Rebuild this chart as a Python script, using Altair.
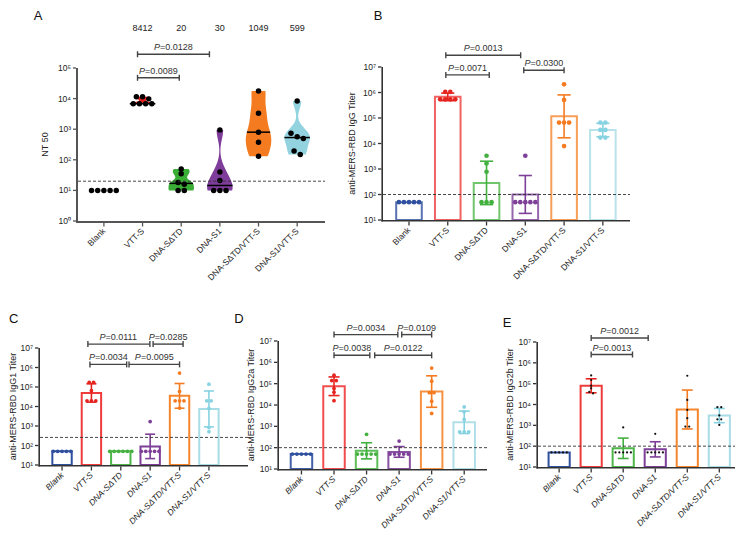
import altair as alt
import numpy as np
import pandas as pd

# ---------------- data ----------------
CATS = ["Blank", "VTT-S", "DNA-S\u0394TD", "DNA-S1", "DNA-S\u0394TD/VTT-S", "DNA-S1/VTT-S"]
SUPERSCRIPTS = ["\u2070", "\u00b9", "\u00b2", "\u00b3", "\u2074", "\u2075", "\u2076", "\u2077"]

# Panel A: NT50 per group
A_BLANK = [10, 10, 10, 10, 10]
A_VTT = [11500, 9800, 11500, 6800, 6800, 6800, 6800]
A_DSDTD = [50, 35, 18, 16, 10, 10]
A_DS1 = [950, 40, 21, 10, 10, 10]
A_DSDTD_VTT = [17800, 3300, 800, 372, 130]
A_DS1_VTT = [8300, 740, 570, 500, 195, 150]
A_GMT_TEXT = ["8412", "20", "30", "1049", "599"]

# Panel B: IgG titers
B_BLANK = [50, 50, 50, 50, 50]
B_VTT = [1050000, 1050000, 540000, 540000, 540000, 540000]
B_DSDTD = [3300, 1650, 780, 50, 50, 50]
B_DS1 = [3300, 50, 50, 50, 50, 50]
B_DSDTD_VTT = [2100000, 510000, 66000, 66000, 66000, 7900]
B_DS1_VTT = [66000, 66000, 34000, 34000, 17000, 17000]

# Panel C: IgG1 titers
C_BLANK = [50, 50, 50, 50, 50]
C_VTT = [174000, 174000, 65000, 19500, 19500, 19500]
C_DSDTD = [50, 50, 50, 50, 50, 50]
C_DS1 = [1700, 50, 50, 50, 50, 50]
C_DSDTD_VTT = [520000, 59000, 19500, 19500, 19500, 8300]
C_DS1_VTT = [140000, 19500, 19500, 8000, 830, 510]

# Panel D: IgG2a titers
D_BLANK = [50, 50, 50, 50, 50]
D_VTT = [250000, 140000, 140000, 60000, 40000, 16000]
D_DSDTD = [420, 50, 50, 50, 50, 50]
D_DS1 = [205, 50, 50, 50, 50, 50]
D_DSDTD_VTT = [540000, 130000, 38000, 38000, 15000, 4000]
D_DS1_VTT = [8100, 4800, 2100, 550, 550, 550]

# Panel E: IgG2b titers
E_BLANK = [50, 50, 50, 50, 50]
E_VTT = [250000, 150000, 80000, 60000, 40000, 34000]
E_DSDTD = [790, 50, 50, 50, 50, 50]
E_DS1 = [390, 50, 50, 50, 50, 50]
E_DSDTD_VTT = [240000, 16500, 5500, 2200, 870, 870]
E_DS1_VTT = [7400, 7400, 3000, 1950, 1950, 1050]

# comparison brackets: (from, to, log10 height, p text)
A_P = [(0.87, 1.95, 4.68, "=0.0089"), (0.87, 2.73, 5.45, "=0.0128")]
B_P = [(0.95, 2.07, 6.69, "=0.0071"), (0.95, 2.88, 7.46, "=0.0013"), (2.96, 4.0, 6.87, "=0.0300")]
C_P = [(0.88, 2.99, 7.2, "=0.0111"), (3.1, 4.12, 7.2, "=0.0285"),
       (0.95, 2.2, 6.16, "=0.0034"), (2.28, 4.0, 6.16, "=0.0095")]
D_P = [(1.0, 2.96, 7.3, "=0.0034"), (3.08, 4.0, 7.3, "=0.0109"),
       (1.0, 2.1, 6.33, "=0.0038"), (2.25, 4.0, 6.33, "=0.0122")]
E_P = [(1.0, 2.78, 7.19, "=0.0012"), (1.0, 2.29, 6.4, "=0.0013")]

# detection-limit lines
A_LIMIT = 20
B_LIMIT = 100
C_LIMIT = 260
D_LIMIT = 100
E_LIMIT = 100

VIOLIN_COLORS = ["#000000", "#e8231f", "#3aad36", "#7e3d9a", "#f47b20", "#93d3e0"]
BAR_COLORS = ["#2f4f9f", "#ee3b3b", "#4cb748", "#7d3f98", "#f5862d", "#a8dce6"]
DOT_COLORS = ["#2f4f9f", "#e52420", "#43b03f", "#7d3f98", "#f47b20", "#86d2e2"]

# ---------------- helpers ----------------
W, H = 727, 521
FONT = "Liberation Sans"


def gstats(vals):
    lg = np.log10(np.asarray(vals, float))
    s = lg.std(ddof=1) if len(lg) > 1 else 0.0
    return lg.mean(), s


def swarm(vals, center, spacing, thresh):
    lg = np.log10(np.asarray(vals, float))
    order = np.argsort(-lg, kind="stable")
    xs = np.zeros(len(lg))
    groups = [[order[0]]]
    for j in order[1:]:
        if abs(lg[j] - lg[groups[-1][-1]]) < thresh:
            groups[-1].append(j)
        else:
            groups.append([j])
    for g in groups:
        n = len(g)
        for k, j in enumerate(g):
            xs[j] = center + (k - (n - 1) / 2) * spacing
    return xs


def make_enc(xr, xdom, yr, ydec):
    xs = alt.Scale(domain=list(xdom), range=list(xr), nice=False, zero=False)
    ys = alt.Scale(type="log", domain=[10.0 ** ydec[0], 10.0 ** ydec[1]], range=list(yr), nice=False)

    def X(f):
        return alt.X(f, type="quantitative", scale=xs, axis=None)

    def Y(f):
        return alt.Y(f, type="quantitative", scale=ys, axis=None)
    return X, Y


def axis_layers(X, Y, xr, xdom, yr, ydec, color, width, ytitle, italic, title_off):
    ppd = (yr[0] - yr[1]) / (ydec[1] - ydec[0])
    pps = (xr[1] - xr[0]) / (xdom[1] - xdom[0])
    lo, hi = ydec
    # frame lines as thin filled rectangles
    frame = pd.DataFrame({
        "xa": [xdom[0] - width / pps, xdom[0] - width / pps],
        "xb": [xdom[1], xdom[0]],
        "ya": [10.0 ** (lo - width / ppd), 10.0 ** (lo - width / ppd)],
        "yb": [10.0 ** lo, 10.0 ** hi]})
    lines = alt.Chart(frame).mark_rect(color=color, opacity=1).encode(
        x=X("xa"), x2="xb", y=Y("ya"), y2="yb")
    tw = 0.65
    xt = pd.DataFrame({"xa": [i - tw / pps for i in range(6)], "xb": [i + tw / pps for i in range(6)],
                       "x": list(range(6)),
                       "ya": [10.0 ** (lo - 5.5 / ppd)] * 6, "yb": [10.0 ** (lo - width / ppd)] * 6,
                       "yl": [10.0 ** (lo - 8.5 / ppd)] * 6, "t": CATS})
    xticks = alt.Chart(xt).mark_rect(color=color, opacity=1).encode(
        x=X("xa"), x2="xb", y=Y("ya"), y2="yb")
    xlabels = alt.Chart(xt).mark_text(
        angle=315, align="right", baseline="middle", fontSize=8.5, font=FONT,
        fontStyle="italic" if italic else "normal", color="#222").encode(
        x=X("x"), y=Y("yl"), text="t:N")
    ks = list(range(lo, hi + 1))
    yt = pd.DataFrame({"ya": [10.0 ** (k - tw / ppd) for k in ks], "yb": [10.0 ** (k + tw / ppd) for k in ks],
                       "y": [10.0 ** k for k in ks],
                       "xa": [xdom[0] - 5.0 / pps] * len(ks), "xb": [xdom[0] - width / pps] * len(ks),
                       "xl": [xdom[0] - 7.0 / pps] * len(ks),
                       "t": ["10" + SUPERSCRIPTS[k] for k in ks]})
    yticks = alt.Chart(yt).mark_rect(color=color, opacity=1).encode(
        x=X("xa"), x2="xb", y=Y("ya"), y2="yb")
    ylabels = alt.Chart(yt).mark_text(align="right", baseline="middle", fontSize=8.5, font=FONT,
                                      color="#222").encode(x=X("xl"), y=Y("y"), text="t:N")
    tdf = pd.DataFrame({"x": [xdom[0] - title_off / pps],
                        "y": [10 ** ((lo + hi) / 2)], "t": [ytitle]})
    title = alt.Chart(tdf).mark_text(angle=270, align="center", baseline="middle", fontSize=9,
                                     font=FONT, color="#222").encode(x=X("x"), y=Y("y"), text="t:N")
    return [lines, xticks, yticks, xlabels, ylabels, title]


def extra_layers(X, Y, xdom, ydec, yr, limit, brackets):
    ppd = (yr[0] - yr[1]) / (ydec[1] - ydec[0])
    cap = 3.0 / ppd
    dash = alt.Chart(pd.DataFrame({"x0": [xdom[0]], "x1": [xdom[1]], "y": [limit]})).mark_rule(
        strokeDash=[3, 2], strokeWidth=0.9, color="#333").encode(x=X("x0"), x2="x1", y=Y("y"))
    bdf = pd.DataFrame({
        "x0": [b[0] for b in brackets], "x1": [b[1] for b in brackets],
        "y": [10 ** b[2] for b in brackets],
        "ylo": [10 ** (b[2] - cap) for b in brackets], "yhi": [10 ** (b[2] + cap) for b in brackets],
        "xm": [(b[0] + b[1]) / 2 for b in brackets], "lab": [b[3] for b in brackets]})
    base = alt.Chart(bdf)
    rc = "#444"
    h = base.mark_rule(color=rc, strokeWidth=1.4).encode(x=X("x0"), x2="x1", y=Y("y"))
    c0 = base.mark_rule(color=rc, strokeWidth=1.4).encode(x=X("x0"), y=Y("ylo"), y2="yhi")
    c1 = base.mark_rule(color=rc, strokeWidth=1.4).encode(x=X("x1"), y=Y("ylo"), y2="yhi")
    tp = base.mark_text(text="P", fontStyle="italic", align="right", baseline="alphabetic",
                        dx=-13.4, dy=-4, fontSize=9, font=FONT, color="#333").encode(x=X("xm"), y=Y("y"))
    tr = base.mark_text(align="left", baseline="alphabetic", dx=-13.4, dy=-4, fontSize=9,
                        font=FONT, color="#333").encode(x=X("xm"), y=Y("y"), text="lab:N")
    return [dash, h, c0, c1, tp, tr]


def bar_panel(groups, xr, xdom, yr, ydec, ytitle, italic, limit, brackets,
              dot_colors, dot_size, spacing, bar_opacity, title_off):
    X, Y = make_enc(xr, xdom, yr, ydec)
    bars, errs, pts = [], [], []
    for i, vals in enumerate(groups):
        m, s = gstats(vals)
        bars.append(dict(b0=i - 0.33, b1=i + 0.33, base=10.0 ** ydec[0], top=10 ** m, c=BAR_COLORS[i]))
        if s > 0.01:
            errs.append(dict(i=i, lo=10 ** (m - s), hi=10 ** (m + s), c0=i - 0.17, c1=i + 0.17,
                             c=DOT_COLORS[i]))
        for x, v in zip(swarm(vals, i, spacing, 0.1), vals):
            pts.append(dict(x=x, v=v, c=dot_colors[i]))
    bdf, edf, pdf = pd.DataFrame(bars), pd.DataFrame(errs), pd.DataFrame(pts)
    col = alt.Color("c:N", scale=None)
    bar = alt.Chart(bdf).mark_rect(fillOpacity=0, strokeWidth=2, strokeOpacity=bar_opacity).encode(
        x=X("b0"), x2="b1", y=Y("base"), y2="top", stroke=alt.Stroke("c:N", scale=None))
    ev = alt.Chart(edf).mark_rule(strokeWidth=1.6).encode(x=X("i"), y=Y("lo"), y2="hi", color=col)
    et = alt.Chart(edf).mark_rule(strokeWidth=1.6).encode(x=X("c0"), x2="c1", y=Y("hi"), color=col)
    eb = alt.Chart(edf).mark_rule(strokeWidth=1.6).encode(x=X("c0"), x2="c1", y=Y("lo"), color=col)
    dots = alt.Chart(pdf).mark_circle(size=dot_size, opacity=1).encode(x=X("x"), y=Y("v"), color=col)
    return alt.layer(bar, ev, et, eb, dots,
                     *extra_layers(X, Y, xdom, ydec, yr, limit, brackets),
                     *axis_layers(X, Y, xr, xdom, yr, ydec, "#333", 1.6, ytitle, italic, title_off))


# ---------------- panel A (violins) ----------------
A_GROUPS = [A_BLANK, A_VTT, A_DSDTD, A_DS1, A_DSDTD_VTT, A_DS1_VTT]
A_XR, A_XDOM, A_YR, A_YDEC = (70, 317), (-0.67, 5.72), (213, 60), (0, 5)
XA, YA = make_enc(A_XR, A_XDOM, A_YR, A_YDEC)

vrows, mrows, prows = [], [], []
for i, vals in enumerate(A_GROUPS):
    lg = np.log10(np.asarray(vals, float))
    for x, v in zip(swarm(vals, i, 0.16, 0.12), vals):
        prows.append(dict(x=x, v=v))
    if i == 0:
        continue
    bw = max(0.05, 0.4 * lg.std(ddof=1))
    grid = np.linspace(lg.min(), lg.max(), 70)
    dens = np.exp(-0.5 * ((grid[:, None] - lg[None, :]) / bw) ** 2).sum(axis=1)
    w = 0.33 * dens / dens.max()
    for gv, wv in zip(grid, w):
        vrows.append(dict(g=i, y=10 ** gv, xl=i - wv, xr=i + wv, c=VIOLIN_COLORS[i]))
    med = np.median(lg)
    wm = float(np.interp(med, grid, w))
    mrows.append(dict(x0=i - wm, x1=i + wm, y=10 ** med))

violin = alt.Chart(pd.DataFrame(vrows)).mark_area(orient="horizontal", opacity=1).encode(
    y=YA("y"), x=XA("xl"), x2="xr", color=alt.Color("c:N", scale=None), detail="g:N")
medline = alt.Chart(pd.DataFrame(mrows)).mark_rule(color="black", strokeWidth=1.5).encode(
    x=XA("x0"), x2="x1", y=YA("y"))
adots = alt.Chart(pd.DataFrame(prows)).mark_circle(size=30, color="black", opacity=1).encode(
    x=XA("x"), y=YA("v"))
gmt = alt.Chart(pd.DataFrame({"g": [1, 2, 3, 4, 5], "y": [10 ** 6.3] * 5, "t": A_GMT_TEXT})).mark_text(
    fontSize=9, font=FONT, color="#222").encode(x=XA("g"), y=YA("y"), text="t:N")
panelA = alt.layer(violin, medline, adots, gmt,
                   *extra_layers(XA, YA, A_XDOM, A_YDEC, A_YR, A_LIMIT, A_P),
                   *axis_layers(XA, YA, A_XR, A_XDOM, A_YR, A_YDEC, "#555", 2, "NT 50", False, 33))

# ---------------- panels B-E ----------------
panelB = bar_panel([B_BLANK, B_VTT, B_DSDTD, B_DS1, B_DSDTD_VTT, B_DS1_VTT],
                   (375, 622), (-0.67, 5.7), (212, 59), (1, 7), "anti-MERS-RBD IgG  Titer",
                   False, B_LIMIT, B_P, DOT_COLORS, 22, 0.13, 0.8, 31)
panelC = bar_panel([C_BLANK, C_VTT, C_DSDTD, C_DS1, C_DSDTD_VTT, C_DS1_VTT],
                   (32, 240), (-0.75, 6.33), (457, 340), (1, 7), "anti-MERS-RBD IgG1  Titer",
                   True, C_LIMIT, C_P, DOT_COLORS, 14, 0.15, 1.0, 27)
panelD = bar_panel([D_BLANK, D_VTT, D_DSDTD, D_DS1, D_DSDTD_VTT, D_DS1_VTT],
                   (271, 479), (-0.69, 5.7), (461, 333), (1, 7), "anti-MERS-RBD IgG2a  Titer",
                   True, D_LIMIT, D_P, DOT_COLORS, 14, 0.14, 0.9, 28)
panelE = bar_panel([E_BLANK, E_VTT, E_DSDTD, E_DS1, E_DSDTD_VTT, E_DS1_VTT],
                   (530, 727), (-0.66, 5.49), (459, 334), (1, 7), "anti-MERS-RBD IgG2b  Titer",
                   True, E_LIMIT, E_P, ["#111"] * 6, 5, 0.12, 1.0, 28)

# ---------------- panel letters ----------------
letters = []
for t, x, y, al in [("A", 30, 2, "center"), ("B", 370, 2, "center"), ("C", 1, 305, "left"),
                    ("D", 231, 305, "center"), ("E", 499, 309, "center")]:
    letters.append(alt.Chart(pd.DataFrame({"t": [t]})).mark_text(
        fontSize=13, font=FONT, align=al, baseline="top", color="#111").encode(
        x=alt.value(x), y=alt.value(y), text="t:N"))

chart = alt.layer(panelA, panelB, panelC, panelD, panelE, *letters).resolve_scale(
    x="independent", y="independent").properties(
    width=W, height=H, autosize=alt.AutoSizeParams(type="none"), padding=0
).configure_view(strokeWidth=0)

chart.save("out.html", embed_options={"renderer": "svg", "actions": False})
